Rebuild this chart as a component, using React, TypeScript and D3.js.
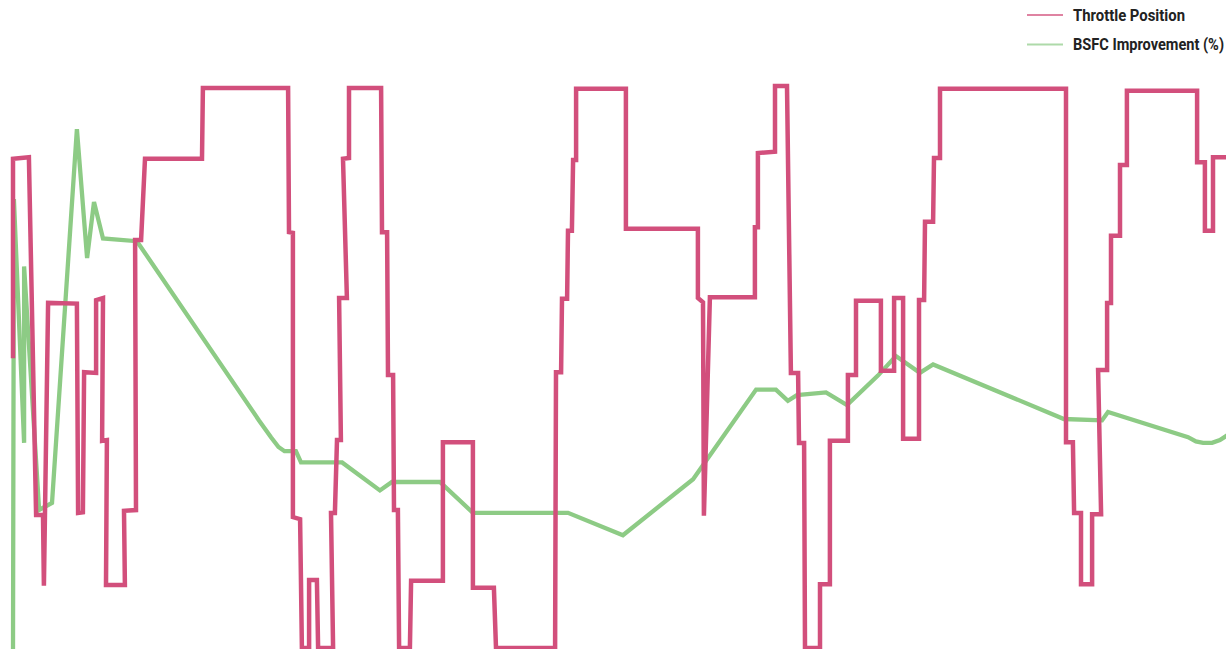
import React from "react";
import * as d3 from "d3";

// time (s) and throttle position samples
const throttleTime = [
  0, 0, 5.3, 7.7, 10, 10.3, 11.7, 21.3, 21.7, 23.3, 23.7, 27.7, 27.7, 30, 29.7, 31.3, 31, 37.3, 37, 41,
  40.7, 42.7, 44, 63, 63.3, 91.7, 92, 93.3, 93.3, 95.7, 96.3, 98.7, 98.7, 101.3, 101.7, 106.7, 106, 107.3, 108, 109.3,
  108.7, 111.3, 110, 112, 112, 122.7, 123, 124.7, 125, 126.7, 127, 128.3, 128.7, 132.3, 132.7, 143.3, 143.3, 153.3, 153.3, 160.3,
  161, 180.7, 181, 182.7, 183, 184.7, 185, 186.3, 186.7, 187.7, 187.7, 204.3, 204.3, 228.3, 228.3, 230, 230.3, 232.3, 247.3, 247.3,
  248.3, 248.3, 254, 254, 258, 259.3, 261.7, 262, 263.7, 264, 269, 269, 272.3, 272.3, 278.3, 278.3, 281, 281, 289.3, 289.3,
  293.7, 293.7, 296.7, 296.7, 302, 302, 303.7, 304, 306.7, 307, 309, 309, 351, 351, 353.3, 353.7, 356, 356, 359.7, 359.7,
  362.7, 361.7, 364.7, 364.7, 366, 366, 369, 369, 371.3, 371.3, 394.7, 394.7, 397.3, 397.3, 400, 400, 406,
];
const throttleValue = [
  41.4, 69.9, 70.1, 19, 19, 8.9, 49.3, 49.2, 19.3, 19.4, 39.4, 39.3, 49.7, 50, 29.6, 29.7, 9, 9, 19.6, 19.7,
  58.3, 58.3, 69.9, 69.9, 80, 80, 59.4, 59.3, 18.7, 18.4, 0, 0, 9.7, 9.7, 0, 0, 19.3, 19.3, 29.7, 29.7,
  50, 50, 69.9, 70, 80, 80, 59.4, 59.4, 39, 39, 19.7, 19.7, 0, 0, 9.6, 9.6, 29.4, 29.4, 8.6, 8.6,
  0, 0, 39.4, 39.4, 49.9, 49.9, 59.6, 59.6, 69.7, 69.7, 79.9, 79.9, 59.9, 59.9, 50, 49.4, 18.9, 50.1, 50.1, 60.1,
  60.1, 70.7, 70.9, 80.3, 80.3, 39.3, 39.3, 29.3, 29.3, 0, 0, 9.1, 9.1, 29.6, 29.6, 39, 39, 49.6, 49.6, 39.6,
  39.6, 50, 50, 29.9, 29.9, 49.7, 49.7, 60.9, 60.9, 70, 70, 79.9, 79.9, 29.4, 29.4, 19.3, 19.3, 9.1, 9.1, 19.1,
  19.1, 39.7, 39.7, 49.3, 49.3, 58.9, 58.9, 69, 69, 79.6, 79.6, 69.4, 69.4, 59.6, 59.6, 70.1, 70.1,
];

// time (s) and BSFC improvement (%) samples
const bsfcTime = [
  0, 0.3, 3.7, 3.7, 8.7, 13, 21.3, 24.7, 27, 30, 41.3, 82, 86, 88.5, 90.5, 94.3, 96, 109.7, 122.3, 126.3, 142.3,
  153.3, 185, 203.3, 226.7, 247.7, 254.3, 258.3, 261.3, 271, 278, 288.3, 294.3, 302.3, 306.7, 350.3, 363, 365, 391.7, 394.3, 396.7,
  399.7, 402.3, 406,
];
const bsfcValue = [
  0, 16.1, 7.4, 13.7, 5, 5.25, 18.6, 14, 16, 14.7, 14.6, 8.2, 7.6, 7.25, 7.1, 7.1, 6.7, 6.7, 5.7, 6, 6,
  4.9, 4.9, 4.1, 6.1, 9.3, 9.3, 8.9, 9.1, 9.2, 8.75, 9.8, 10.5, 9.9, 10.2, 8.25, 8.2, 8.5, 7.6, 7.45, 7.4,
  7.4, 7.5, 7.75,
];

const seriesNames = ["Throttle Position", "BSFC Improvement (%)"];
const seriesColors = ["#d24f7c", "#8dcb85"];
const legendWidths = [112, 151];

const W = 1226;
const H = 649;

export default function App() {
  const x = d3.scaleLinear().domain([0, 404]).range([13, 1225]);
  const yThrottle = d3.scaleLinear().domain([0, 80]).range([648, 88]);
  const yBsfc = d3.scaleLinear().domain([0, 20]).range([650, 90]);

  const throttle = throttleTime.map((t, i) => [t, throttleValue[i]] as [number, number]);
  const bsfc = bsfcTime.map((t, i) => [t, bsfcValue[i]] as [number, number]);

  const lineThrottle = d3
    .line<[number, number]>()
    .x((d) => x(d[0]))
    .y((d) => yThrottle(d[1]));
  const lineBsfc = d3
    .line<[number, number]>()
    .x((d) => x(d[0]))
    .y((d) => yBsfc(d[1]));

  const fontFamily = "'Roboto', 'DejaVu Sans Condensed', sans-serif";

  return (
    <svg
      width={W}
      height={H}
      style={{ position: "absolute", left: 0, top: 0, background: "#fff" }}
    >
      <path d={lineBsfc(bsfc) || ""} fill="none" stroke={seriesColors[1]} strokeWidth={4.3} />
      <path d={lineThrottle(throttle) || ""} fill="none" stroke={seriesColors[0]} strokeWidth={4.5} />
      {seriesNames.map((name, i) => (
        <g key={name} transform={`translate(1027, ${15 + i * 29.5})`}>
          <line x1={0} x2={36} y1={0} y2={0} stroke={seriesColors[i]} strokeWidth={2} opacity={0.7} />
          <text
            x={46}
            y={5.5}
            fontFamily={fontFamily}
            fontWeight="bold"
            fontSize={16}
            textLength={legendWidths[i]}
            lengthAdjust="spacingAndGlyphs"
            fill="#222"
          >
            {name}
          </text>
        </g>
      ))}
    </svg>
  );
}
